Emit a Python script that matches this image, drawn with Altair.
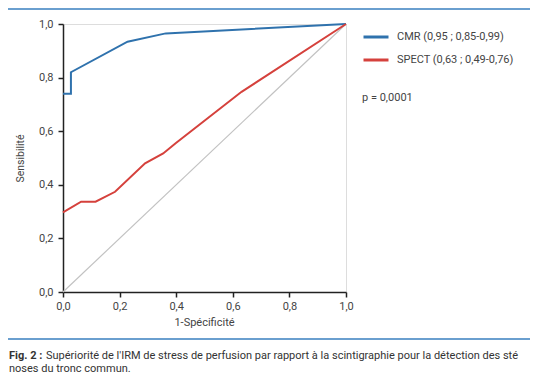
import altair as alt
import pandas as pd

# ---- data ----
series_names = ["CMR (0,95 ; 0,85-0,99)", "SPECT (0,63 ; 0,49-0,76)"]
series_colors = ["#2f72ad", "#d5413c"]

cmr_fpr = [0.0, 0.028, 0.028, 0.228, 0.363, 1.0]
cmr_tpr = [0.74, 0.74, 0.82, 0.934, 0.965, 1.0]

spect_fpr = [0.0, 0.064, 0.115, 0.184, 0.29, 0.354, 0.398, 0.631, 1.0]
spect_tpr = [0.297, 0.337, 0.337, 0.374, 0.48, 0.517, 0.555, 0.747, 1.0]

diag_fpr = [0.0, 1.0]
diag_tpr = [0.0, 1.0]

tick_values = [0.0, 0.2, 0.4, 0.6, 0.8, 1.0]
x_title = "1-Spécificité"
y_title = "Sensibilité"
p_text = "p = 0,0001"
caption_bold = "Fig. 2 :"
caption_line1 = "Supériorité de l'IRM de stress de perfusion par rapport à la scintigraphie pour la détection des sté"
caption_line2 = "noses du tronc commun."

FONT = "Roboto"

rows = []
for i, (fx, ty) in enumerate(zip(cmr_fpr, cmr_tpr)):
    rows.append({"series": series_names[0], "fpr": fx, "tpr": ty, "idx": i})
for i, (fx, ty) in enumerate(zip(spect_fpr, spect_tpr)):
    rows.append({"series": series_names[1], "fpr": fx, "tpr": ty, "idx": i})
df = pd.DataFrame(rows)
diag_df = pd.DataFrame({"fpr": diag_fpr, "tpr": diag_tpr, "idx": [0, 1]})

label_expr = "replace(format(datum.value, '.1f'), '.', ',')"

x_axis = alt.Axis(
    values=tick_values, labelExpr=label_expr, title=x_title, grid=False,
    domainColor="#222", domainWidth=1.5, tickColor="#222", tickWidth=1.5,
    tickSize=5, labelPadding=3, labelFontSize=11, labelColor="#444",
    labelFlush=False, labelOverlap=False,
    labelFont=FONT, titleFont=FONT, titleFontSize=11, titleFontWeight="normal",
    titleColor="#444", titleX=141, titleY=30, titleBaseline="middle",
)
y_axis = alt.Axis(
    values=tick_values, labelExpr=label_expr, title=y_title, grid=False,
    domainColor="#222", domainWidth=1.5, tickColor="#222", tickWidth=1.5,
    tickSize=5, labelPadding=5, labelFontSize=11, labelColor="#444",
    labelFlush=False, labelOverlap=False,
    labelFont=FONT, titleFont=FONT, titleFontSize=10.5, titleFontWeight="normal",
    titleColor="#444", titleX=-43, titleY=134, titleBaseline="middle",
    titleAngle=270,
)
x_scale = alt.Scale(domain=[0, 1], nice=False)
y_scale = alt.Scale(domain=[0, 1], nice=False)

diag = alt.Chart(diag_df).mark_line(strokeWidth=1.2, color="#c2c2c2").encode(
    x=alt.X("fpr:Q", scale=x_scale, axis=x_axis),
    y=alt.Y("tpr:Q", scale=y_scale, axis=y_axis),
    order="idx:Q",
)

lines = alt.Chart(df).mark_line(strokeWidth=2).encode(
    x=alt.X("fpr:Q", scale=x_scale, axis=x_axis),
    y=alt.Y("tpr:Q", scale=y_scale, axis=y_axis),
    order="idx:Q",
    color=alt.Color(
        "series:N",
        scale=alt.Scale(domain=series_names, range=series_colors),
        legend=alt.Legend(
            orient="none", legendX=299, legendY=-1, title=None,
            symbolType="stroke", symbolSize=625, symbolStrokeWidth=3,
            labelFontSize=11, labelFont=FONT, labelColor="#444",
            labelOffset=7, rowPadding=3,
        ),
    ),
)

p_label = alt.Chart(pd.DataFrame({"t": [p_text]})).mark_text(
    align="left", baseline="middle", fontSize=11, font=FONT, color="#444"
).encode(x=alt.value(299), y=alt.value(74), text="t:N")

sep = alt.Chart(pd.DataFrame({"a": [0]})).mark_rule(
    color="#6a9fcf", strokeWidth=2
).encode(x=alt.value(-60), x2=alt.value(470), y=alt.value(315))

top_sep = alt.Chart(pd.DataFrame({"a": [0]})).mark_rule(
    color="#6a9fcf", strokeWidth=2
).encode(x=alt.value(-60), x2=alt.value(470), y=alt.value(-15))

cap_bold = alt.Chart(pd.DataFrame({"t": [caption_bold]})).mark_text(
    align="left", baseline="middle", fontSize=11, font=FONT,
    fontWeight="bold", color="#333"
).encode(x=alt.value(-54), y=alt.value(332), text="t:N")

cap1 = alt.Chart(pd.DataFrame({"t": [caption_line1]})).mark_text(
    align="left", baseline="middle", fontSize=11, font=FONT, color="#333"
).encode(x=alt.value(-17), y=alt.value(332), text="t:N")

cap2 = alt.Chart(pd.DataFrame({"t": [caption_line2]})).mark_text(
    align="left", baseline="middle", fontSize=11, font=FONT, color="#333"
).encode(x=alt.value(-54), y=alt.value(345), text="t:N")

chart = alt.layer(diag, lines, p_label, sep, top_sep, cap_bold, cap1, cap2).properties(
    width=283,
    height=268,
    autosize=alt.AutoSizeParams(type="none"),
    padding={"left": 55, "top": 16, "right": 184, "bottom": 84},
).configure_view(
    stroke="#c4c4c4", strokeWidth=1.5
).configure(background="white")

chart.save("out.html", embed_options={"renderer": "svg", "actions": False})
